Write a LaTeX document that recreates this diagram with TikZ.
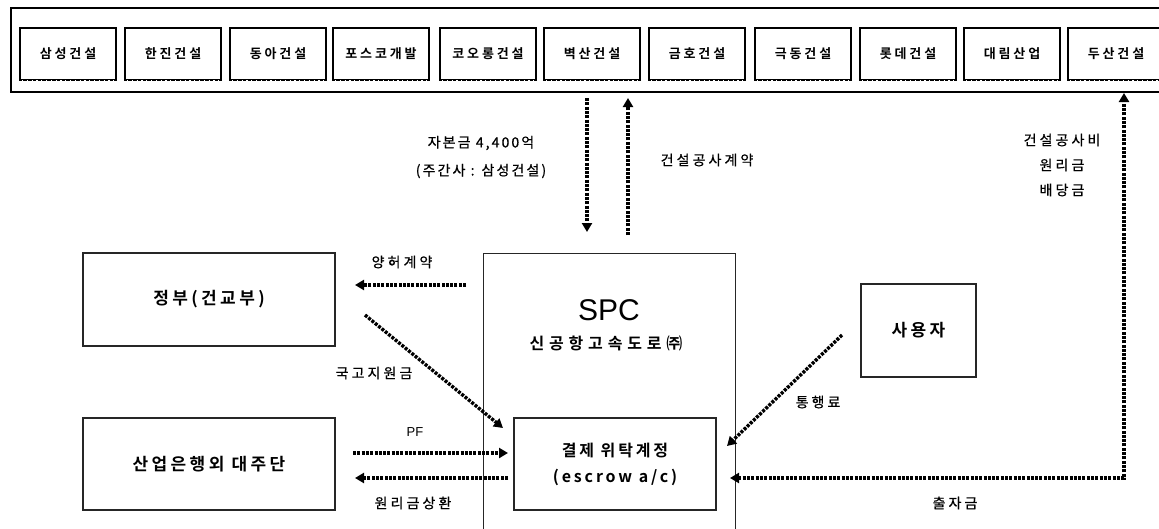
\documentclass[tikz,border=0pt]{standalone}
\usepackage{fontspec}
\setmainfont{Noto Sans CJK KR}[BoldFont={Noto Sans CJK KR Bold}]
\newfontfamily\latinfont{Liberation Sans}
\usetikzlibrary{arrows.meta}
\begin{document}
\begin{tikzpicture}[x=1pt,y=-1pt,
  mainbox/.style={draw=black!85, line width=1.3pt, inner sep=0pt},
  firm/.style={draw, line width=2pt, inner sep=0pt, minimum width=96pt, minimum height=52pt,
    font=\fontsize{13}{15}\selectfont\bfseries\addfontfeature{LetterSpace=22}},
  gapline/.style={white, line width=1.1pt, dash pattern=on 1.2pt off 3.6pt},
  boxtext/.style={font=\fontsize{17}{19}\selectfont\bfseries\addfontfeature{LetterSpace=20}},
  lbl/.style={inner sep=0pt, font=\fontsize{14}{16}\selectfont\addfontfeature{LetterSpace=22,FakeBold=0.6}},
  flow/.style={line width=3.4pt, dash pattern=on 3pt off 1.3pt, -{Triangle[length=9pt,width=10pt]}},
  flowtwo/.style={line width=3.4pt, dash pattern=on 3pt off 1.3pt, {Triangle[length=9pt,width=10pt]}-{Triangle[length=9pt,width=10pt]}},
]
\useasboundingbox (0,0) rectangle (1159,528);
\fill[white] (0,0) rectangle (1159,528);

% top frame with the consortium members
\node[draw, line width=1.5pt, minimum width=1160pt, minimum height=84pt, anchor=north west, inner sep=0pt] (top) at (10,7) {};
\foreach \i/\x/\t in {1/20/삼성건설, 2/125/한진건설, 3/230/동아건설, 4/333/포스코개발, 5/440/코오롱건설, 6/544/벽산건설, 7/649/금호건설, 8/755/극동건설, 9/860/롯데건설, 10/964/대림산업, 11/1068/두산건설}{
  \node[firm] (f\i) at (\x+48,54) {\t};
  \draw[gapline] ([xshift=3pt]f\i.south west) -- ([xshift=-3pt]f\i.south east);
}

% main boxes
\node[mainbox, boxtext, minimum width=252pt, minimum height=93pt] (gov) at (209,299.5) {정부(건교부)};
\node[mainbox, minimum width=252pt, minimum height=300pt, anchor=north west] (spc) at (483,253) {};
\node[inner sep=0pt, font=\latinfont\fontsize{30}{32}\selectfont] (spct) at (609,310) {SPC};
\node[inner sep=0pt, font=\fontsize{16}{18}\selectfont\bfseries\addfontfeature{LetterSpace=30}] (spcn) at (606,343) {신공항고속도로㈜};
\node[mainbox, boxtext, minimum width=115pt, minimum height=93pt] (user) at (918.5,330.5) {사용자};
\node[mainbox, boxtext, minimum width=252pt, minimum height=92pt] (bank) at (209,464) {산업은행외 대주단};
\node[mainbox, minimum width=202pt, minimum height=92pt, align=center,
  font=\fontsize{16}{26}\selectfont\bfseries\addfontfeature{LetterSpace=18}] (esc) at (615,464) {결제 위탁계정\\(escrow a/c)};

% connector end points
\coordinate (c1s) at (587,98);   \coordinate (c1e) at (587,232);
\coordinate (c2s) at (628,235);  \coordinate (c2e) at (628,98);
\coordinate (c3s) at (466,285);  \coordinate (c3e) at (355,285);
\coordinate (c4s) at (365,315);  \coordinate (c4e) at (503,428);
\coordinate (c5s) at (353,453);  \coordinate (c5e) at (508,453);
\coordinate (c6s) at (508,478);  \coordinate (c6e) at (355,478);
\coordinate (c7s) at (842,335);  \coordinate (c7e) at (727,446);
\coordinate (c8s) at (730,478);  \coordinate (c8c) at (1124,478); \coordinate (c8e) at (1124,93);

\draw[flow] (c1s) -- (c1e);
\draw[flow] (c2s) -- (c2e);
\draw[flow] (c3s) -- (c3e);
\draw[flow] (c4s) -- (c4e);
\draw[flow] (c5s) -- (c5e);
\draw[flow] (c6s) -- (c6e);
\draw[flow] (c7s) -- (c7e);
\draw[flowtwo] (c8s) -- (c8c) -- (c8e);

% labels
\node[lbl, align=center, font=\fontsize{14}{28}\selectfont\addfontfeature{LetterSpace=15,FakeBold=0.6}] (lcap) at (481,157) {자본금 4,400억\\(주간사 : 삼성건설)};
\node[lbl] (lcon) at (707,160) {건설공사계약};
\node[lbl, align=center, font=\fontsize{14}{25}\selectfont\addfontfeature{LetterSpace=22,FakeBold=0.6}] (lpay) at (1062,165) {건설공사비\\원리금\\배당금};
\node[lbl] (lgr) at (402,262) {양허계약};
\node[lbl] (lsub) at (374,373) {국고지원금};
\node[lbl, font=\latinfont\fontsize{13}{15}\selectfont] (lpf) at (415,432) {PF};
\node[lbl] (lrep) at (413,503) {원리금상환};
\node[lbl] (ltoll) at (818,402) {통행료};
\node[lbl] (leq) at (955,503) {출자금};
\end{tikzpicture}
\end{document}
